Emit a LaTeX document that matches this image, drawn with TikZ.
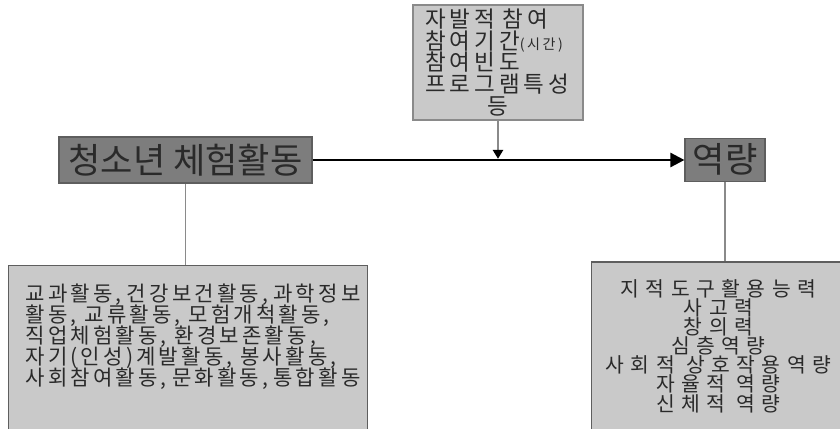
\documentclass[tikz,border=0pt]{standalone}
\usepackage{fontspec}
\newfontfamily\krfont{Noto Sans CJK KR}
\newfontfamily\krtop[LetterSpace=18]{Noto Sans CJK KR}
\newfontfamily\krlist[LetterSpace=15]{Noto Sans CJK KR}
\newfontfamily\krwide[LetterSpace=32]{Noto Sans CJK KR}
\newcommand\tightlines{\lineskiplimit=-100pt\lineskip=0pt}
\usetikzlibrary{arrows.meta}
\definecolor{darkfill}{HTML}{7D7D7D}
\definecolor{lightfill}{HTML}{C9C9C9}
\definecolor{boxline}{HTML}{5E5E5E}
\definecolor{linkgray}{HTML}{8A8A8A}
\definecolor{textgray}{HTML}{2A2A2A}

\begin{document}
\begin{tikzpicture}[
darkbox/.style={rectangle, draw=boxline, fill=darkfill, line width=0.8pt, inner sep=0pt, text=textgray, font=\krfont\fontsize{25pt}{26pt}\selectfont},
lightbox/.style={rectangle, draw=boxline, fill=lightfill, line width=0.8pt, inner sep=0pt, text=textgray},
link/.style={draw=linkgray, line width=0.8pt},
]
\useasboundingbox (0,0) rectangle (21,-10.7);

\node at (12.45,-1.5625) [lightbox, draw=linkgray, minimum width=4.25cm, minimum height=2.875cm, text width=3.65cm, align=left, font=\krtop\fontsize{16pt}{15.3pt}\selectfont\tightlines](factors){자발적 참여\\참여기간{\fontsize{10pt}{10pt}\selectfont(시간)}\\참여빈도\\프로그램특성\\\makebox[\hsize]{등}};

\node at (4.6375,-4.0) [darkbox, minimum width=6.325cm, minimum height=1.15cm](youth){청소년 체험활동};
\node at (18.125,-3.99) [darkbox, minimum width=2cm, minimum height=1.075cm](comp){역량};

\draw[line width=1.8pt, -{Triangle[length=0.35cm,width=0.35cm]}] (youth.east) -- (youth.east -| comp.west);
\coordinate (join) at (factors.south |- youth.east);
\draw[link, shorten >=0.9pt, -{Triangle[color=black,length=0.22cm,width=0.26cm]}] (factors.south) -- (join);

\node at (0.2,-6.625) [lightbox, anchor=north west, inner xsep=0.425cm](acts){\parbox[c][4.2cm][t]{8.125cm}{\krlist\fontsize{15pt}{15pt}\selectfont\tightlines\vspace*{0.45cm}교과활동,~건강보건활동,~과학정보\\활동,~교류활동,~모험개척활동,\\직업체험활동,~환경보존활동,\\자기(인성)계발활동,~봉사활동,\\사회참여활동,~문화활동,~통합활동}};
\draw[link] (youth.south) -- (youth.south |- acts.north);

\node at (17.96,-8.65) [lightbox, minimum width=6.325cm, minimum height=4.2cm, align=center, font=\krwide\fontsize{14.5pt}{13.6pt}\selectfont\tightlines](abil){지적도구활용능력\\사고력\\창의력\\심층역량\\사회적 상호작용역량\\자율적 역량\\신체적 역량};
\draw[link] (comp.south) -- (comp.south |- abil.north);

\end{tikzpicture}
\end{document}
